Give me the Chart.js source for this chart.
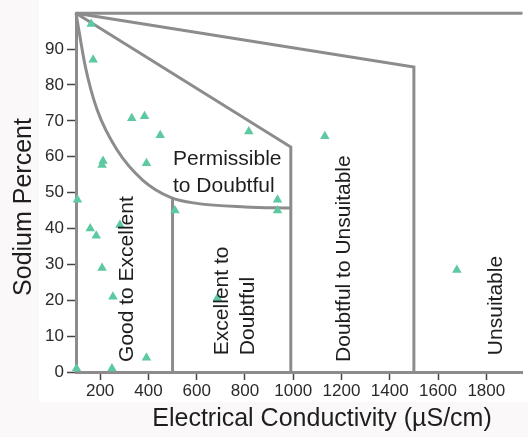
<!DOCTYPE html>
<html>
<head>
<meta charset="utf-8">
<script src="https://cdn.jsdelivr.net/npm/chart.js@4"></script>
<style>
  html, body { margin: 0; padding: 0; background: #faf8f8; }
  #wrap { width: 528px; height: 437px; }
</style>
</head>
<body>
<div id="wrap"><canvas id="wilcox" width="528" height="437"></canvas></div>
<script>
// Samples: electrical conductivity (µS/cm) and sodium percent
const ecValues = [163, 171, 331, 384, 449, 816, 212, 208, 392, 106, 510, 935, 935, 1131,
    159, 184, 208, 253, 392, 249, 102, 282, 686, 1678];
const naValues = [97, 87, 70.7, 71.3, 66, 67, 58.8, 57.7, 58.2, 48, 45, 48, 45, 65.7,
    40, 38, 29, 21, 4, 1, 1, 41, 20.6, 28.4];

// Wilcox diagram class boundaries
const topEc = [100, 1950];
const topNa = [100, 100];
const unsuitEc = [100, 1500, 1500];
const unsuitNa = [100, 85, 0];
const doubtEc = [100, 990, 990];
const doubtNa = [100, 62.7, 0];
const curveEc = [100, 139, 188, 269, 376, 494, 600, 800, 990];
const curveNa = [100, 85, 73, 62, 53.5, 48.6, 47, 46, 45.7];
const goodEc = [500, 500];
const goodNa = [48.5, 0];

const xTicks = [200, 400, 600, 800, 1000, 1200, 1400, 1600, 1800];
const yTicks = [0, 10, 20, 30, 40, 50, 60, 70, 80, 90];

// Zone labels: [text lines, ec, na, rotated]
const zoneLabels = [
    { lines: ['Good to Excellent'], ec: 335, na: 2.8, rotate: true },
    { lines: ['Excellent to', 'Doubtful'], ec: 731, na: 4.7, rotate: true },
    { lines: ['Doubtful to Unsuitable'], ec: 1237, na: 2.8, rotate: true },
    { lines: ['Unsuitable'], ec: 1865, na: 4.7, rotate: true },
    { lines: ['Permissible', 'to Doubtful'], ec: 502, na: 57.7, rotate: false }
];

const toPoints = (xs, ys) => xs.map((x, i) => ({ x: x, y: ys[i] }));

const lineStyle = {
    type: 'line',
    showLine: true,
    pointRadius: 0,
    borderColor: '#8c8c8c',
    borderWidth: 3,
    fill: false,
    clip: false,
    order: 2
};

const FONT = "'Liberation Sans', Arial, sans-serif";

const backdrop = {
    id: 'backdrop',
    beforeDraw(chart) {
        const { ctx, chartArea } = chart;
        ctx.save();
        ctx.fillStyle = '#faf8f8';
        ctx.fillRect(0, 0, chart.width, chart.height);
        ctx.fillStyle = '#ffffff';
        ctx.fillRect(chartArea.left - 37, 0, chart.width, chartArea.bottom + 30);
        ctx.restore();
    }
};

const labels = {
    id: 'labels',
    afterDraw(chart) {
        const { ctx, chartArea } = chart;
        const xs = chart.scales.x, ys = chart.scales.y;
        ctx.save();
        ctx.fillStyle = '#1e1e1e';
        ctx.font = '21px ' + FONT;
        ctx.textAlign = 'left';
        ctx.textBaseline = 'alphabetic';
        zoneLabels.forEach(z => {
            const px = xs.getPixelForValue(z.ec);
            const py = ys.getPixelForValue(z.na);
            z.lines.forEach((line, i) => {
                if (z.rotate) {
                    ctx.save();
                    ctx.translate(px + i * 26, py);
                    ctx.rotate(-Math.PI / 2);
                    ctx.fillText(line, 0, 0);
                    ctx.restore();
                } else {
                    ctx.fillText(line, px, py + i * 27);
                }
            });
        });

        // axis titles
        ctx.font = '25px ' + FONT;
        ctx.textAlign = 'center';
        ctx.textBaseline = 'middle';
        ctx.fillText('Electrical Conductivity (µS/cm)', 322, chartArea.bottom + 47);
        ctx.save();
        ctx.translate(24, 207);
        ctx.rotate(-Math.PI / 2);
        ctx.fillText('Sodium Percent', 0, 0);
        ctx.restore();
        ctx.restore();
    }
};

const axisCommon = {
    type: 'linear',
    grid: {
        display: true,
        drawOnChartArea: false,
        drawTicks: true,
        tickLength: 9,
        tickColor: '#444',
        tickWidth: 1.5
    },
    border: { display: true, color: '#8c8c8c', width: 3 },
    ticks: { color: '#2a2a2a', font: { family: FONT, size: 17 }, callback: v => String(v) }
};

new Chart(document.getElementById('wilcox'), {
    type: 'scatter',
    data: {
        datasets: [
            Object.assign({ label: 'top', data: toPoints(topEc, topNa) }, lineStyle),
            Object.assign({ label: 'unsuitable', data: toPoints(unsuitEc, unsuitNa) }, lineStyle),
            Object.assign({ label: 'doubtful', data: toPoints(doubtEc, doubtNa) }, lineStyle),
            Object.assign({ label: 'curve', data: toPoints(curveEc, curveNa), cubicInterpolationMode: 'monotone' }, lineStyle),
            Object.assign({ label: 'good', data: toPoints(goodEc, goodNa) }, lineStyle),
            {
                label: 'Samples',
                data: toPoints(ecValues, naValues),
                pointStyle: 'triangle',
                pointRadius: 5.5,
                backgroundColor: '#5cc9a0',
                borderColor: '#5cc9a0',
                borderWidth: 0,
                clip: false,
                order: 1
            }
        ]
    },
    options: {
        responsive: false,
        animation: false,
        devicePixelRatio: 1,
        layout: { padding: { top: 13, right: 0, left: 0, bottom: 0 } },
        plugins: { legend: { display: false }, tooltip: { enabled: false } },
        scales: {
            x: Object.assign({}, axisCommon, {
                min: 100,
                max: 1950,
                ticks: Object.assign({}, axisCommon.ticks, { padding: 1, maxRotation: 0 }),
                grid: Object.assign({}, axisCommon.grid, { tickLength: 8 }),
                afterBuildTicks: s => { s.ticks = xTicks.map(v => ({ value: v })); },
                afterFit: s => { s.height = 65; }
            }),
            y: Object.assign({}, axisCommon, {
                min: 0,
                max: 100,
                ticks: Object.assign({}, axisCommon.ticks, { padding: 3 }),
                afterBuildTicks: s => { s.ticks = yTicks.map(v => ({ value: v })); },
                afterFit: s => { s.width = 76; }
            })
        }
    },
    plugins: [backdrop, labels]
});
</script>
</body>
</html>
